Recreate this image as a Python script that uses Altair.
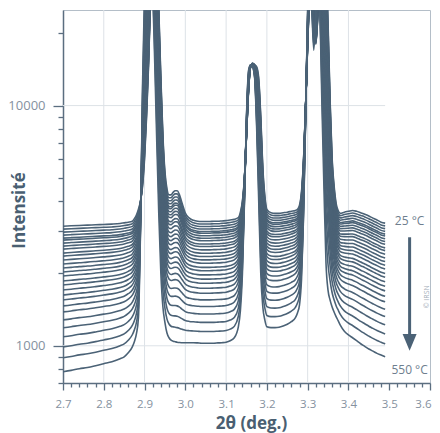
import altair as alt
import pandas as pd
import numpy as np

# 2-theta grid (deg.)
two_theta = [2.70, 2.72, 2.74, 2.76, 2.78, 2.80, 2.82, 2.84, 2.85, 2.86,
             2.87, 2.875, 2.88, 2.885, 2.89, 2.895, 2.90, 2.905, 2.91, 2.915,
             2.92, 2.925, 2.93, 2.935, 2.94, 2.945, 2.95, 2.955, 2.96, 2.965,
             2.97, 2.975, 2.98, 2.985, 2.99, 2.995, 3.00, 3.01, 3.02, 3.03,
             3.04, 3.05, 3.06, 3.07, 3.08, 3.09, 3.10, 3.11, 3.12, 3.13,
             3.135, 3.14, 3.145, 3.15, 3.155, 3.16, 3.165, 3.17, 3.175, 3.18,
             3.185, 3.19, 3.195, 3.20, 3.21, 3.22, 3.23, 3.24, 3.25, 3.26,
             3.27, 3.275, 3.28, 3.285, 3.29, 3.295, 3.30, 3.305, 3.31, 3.315,
             3.32, 3.325, 3.33, 3.335, 3.34, 3.345, 3.35, 3.355, 3.36, 3.365,
             3.37, 3.375, 3.38, 3.39, 3.40, 3.41, 3.42, 3.43, 3.44, 3.45,
             3.46, 3.47, 3.48, 3.49]

# pattern at 25 °C (top curve)
intensity_25C = [3147, 3160, 3170, 3180, 3190, 3200, 3210, 3230, 3250, 3270,
                 3300, 3380, 3500, 3700, 4000, 4600, 6000, 9000, 15000, 30000,
                 60000, 60000, 45000, 25000, 13000, 7500, 5300, 4500, 4250, 4250,
                 4350, 4420, 4420, 4280, 4030, 3780, 3570, 3400, 3330, 3300,
                 3290, 3290, 3290, 3300, 3300, 3310, 3320, 3340, 3360, 3420,
                 3600, 4000, 5000, 7500, 11500, 14500, 15000, 14800, 14500, 13000,
                 9000, 5500, 4200, 3700, 3580, 3560, 3560, 3580, 3600, 3630,
                 3660, 3700, 3850, 4400, 6000, 10000, 18000, 30000, 40000, 26000,
                 18000, 24000, 40000, 50000, 50000, 40000, 22000, 10500, 6000, 4600,
                 3900, 3650, 3560, 3600, 3630, 3660, 3630, 3580, 3530, 3470,
                 3400, 3340, 3270, 3240]

# pattern at 550 °C (bottom curve)
intensity_550C = [780, 790, 803, 812, 826, 842, 858, 883, 900, 935,
                  990, 1040, 1120, 1310, 3000, 12000, 30000, 50000, 60000, 50000,
                  30000, 15000, 7000, 3500, 2000, 1450, 1250, 1130, 1080, 1055,
                  1045, 1040, 1035, 1032, 1030, 1030, 1030, 1030, 1030, 1028,
                  1025, 1025, 1025, 1025, 1028, 1030, 1035, 1050, 1080, 1200,
                  1400, 2000, 4000, 9000, 14000, 14800, 14500, 13000, 8000, 4000,
                  2000, 1450, 1280, 1200, 1190, 1190, 1195, 1210, 1230, 1260,
                  1310, 1370, 1480, 1900, 3500, 9000, 25000, 40000, 26000, 17000,
                  25000, 40000, 25000, 10000, 4500, 2200, 1700, 1550, 1450, 1380,
                  1320, 1270, 1220, 1150, 1110, 1080, 1050, 1020, 995, 970,
                  950, 930, 915, 900]

# intensity of every pattern at 2θ = 2.7, from 25 °C (top) to 550 °C (bottom)
level_at_start = [3147, 3059, 2972, 2888, 2806, 2754, 2676, 2600, 2526, 2432,
                  2363, 2275, 2189, 2107, 2028, 1952, 1861, 1791, 1707, 1627,
                  1552, 1466, 1384, 1282, 1188, 1090, 990, 892, 780]

x_ticks = [round(2.70 + 0.02 * k, 2) for k in range(46)]
y_ticks = [700, 800, 900, 1000, 2000, 3000, 4000, 5000, 6000, 7000, 8000, 9000,
           10000, 20000]
grid_x = [2.8, 2.9, 3.0, 3.1, 3.2, 3.3, 3.4]
grid_y = [1000, 10000]

assert len(two_theta) == len(intensity_25C) == len(intensity_550C)

LINE = "#4b6276"
AXIS = "#5b6e80"
LABEL = "#8591a0"
TITLE = "#4a5f72"
FONT = "Open Sans"

lt = np.log(np.array(intensity_25C, float))
lb = np.log(np.array(intensity_550C, float))
rows = []
for i, lev in enumerate(level_at_start):
    t = (np.log(lev) - lt[0]) / (lb[0] - lt[0])
    vals = np.exp((1 - t) * lt + t * lb)
    for x, v in zip(two_theta, vals):
        rows.append({"curve": i, "tt": x, "I": float(v)})
df = pd.DataFrame(rows)

W, H = 367, 373
xscale = alt.Scale(domain=[2.7, 3.6], nice=False, zero=False)
yscale = alt.Scale(type="log", domain=[700, 25000], nice=False)

gx = alt.Chart(pd.DataFrame({"gx": grid_x})).mark_rule(
    color="#dde2e7", strokeWidth=1).encode(
    x=alt.X("gx:Q", scale=xscale, axis=None))
gy = alt.Chart(pd.DataFrame({"gy": grid_y, "x0": [2.7, 2.7], "x1": [3.49, 3.49]})).mark_rule(
    color="#dde2e7", strokeWidth=1).encode(
    y=alt.Y("gy:Q", scale=yscale, axis=None),
    x=alt.X("x0:Q", scale=xscale, axis=None), x2="x1:Q")

major_x = "abs(datum.value*10 - round(datum.value*10)) < 0.001"
major_y = "datum.value == 1000 || datum.value == 10000"

lines = alt.Chart(df).mark_line(clip=True, color=LINE, strokeWidth=1.6,
                                interpolate="monotone").encode(
    x=alt.X("tt:Q", scale=xscale,
            axis=alt.Axis(values=x_ticks, title="2θ (deg.)",
                          labelExpr=major_x + " ? format(datum.value, '.1f') : ''",
                          tickSize={"condition": {"test": major_x, "value": 7}, "value": 4},
                          labelAlign={"condition": {"test": "datum.value > 3.59", "value": "right"}, "value": "center"},
                          labelOffset={"condition": {"test": "datum.value > 3.59", "value": 1}, "value": 0},
                          labelPadding=8, labelFontSize=11.5, labelColor=LABEL, labelFont=FONT,
                          titleFont=FONT, titleFontSize=17, titleFontWeight="bold", titleColor=TITLE,
                          titleX=188, titleY=45, titleBaseline="alphabetic",
                          grid=False, domainColor=AXIS, tickColor=AXIS, domainWidth=1.5,
                          tickWidth=1.3, labelFlush=False, labelOverlap=False)),
    y=alt.Y("I:Q", scale=yscale,
            axis=alt.Axis(values=y_ticks, title="Intensité", format="d",
                          labelExpr=major_y + " ? datum.label : ''",
                          tickSize={"condition": {"test": major_y, "value": 10}, "value": 5},
                          labelPadding=8, labelFontSize=13, labelColor=LABEL, labelFont=FONT,
                          titleFont=FONT, titleFontSize=17, titleFontWeight="bold", titleColor=TITLE,
                          titleX=-44, titleY=200, titleAngle=-90, titleBaseline="middle",
                          grid=False, domainColor=AXIS, tickColor=AXIS, domainWidth=1.5,
                          tickWidth=1.3, labelOverlap=False)),
    detail="curve:N")

ann = pd.DataFrame({"x": [3.55, 3.55], "y": [3300, 790], "txt": ["25 °C", "550 °C"]})
labels = alt.Chart(ann).mark_text(font=FONT, fontSize=12, color="#6e7e8e",
                                  align="center", baseline="middle").encode(
    x=alt.X("x:Q", scale=xscale, axis=None),
    y=alt.Y("y:Q", scale=yscale, axis=None),
    text="txt:N")

credit = alt.Chart(pd.DataFrame({"x": [3.593], "y": [1600], "txt": ["© IRSN"]})).mark_text(
    font=FONT, fontSize=7, color="#a3adb8", angle=270, align="center", baseline="middle").encode(
    x=alt.X("x:Q", scale=xscale, axis=None),
    y=alt.Y("y:Q", scale=yscale, axis=None),
    text="txt:N")

arrow_df = pd.DataFrame({"x": [3.55], "y0": [2830], "y1": [1100], "yh": [1033]})
shaft = alt.Chart(arrow_df).mark_rule(color=LINE, strokeWidth=3).encode(
    x=alt.X("x:Q", scale=xscale, axis=None),
    y=alt.Y("y0:Q", scale=yscale, axis=None), y2="y1:Q")
head = alt.Chart(arrow_df).mark_point(shape="M -1 -1.2 L 1 -1.2 L 0 1.2 Z",
                                      size=196, filled=True, color=LINE, opacity=1).encode(
    x=alt.X("x:Q", scale=xscale, axis=None),
    y=alt.Y("yh:Q", scale=yscale, axis=None))

chart = alt.layer(gx, gy, lines, labels, credit, shaft, head).resolve_axis(
    x="independent", y="independent").properties(
    width=W, height=H,
    autosize=alt.AutoSizeParams(type="none"),
    padding={"left": 55, "top": 2, "right": 2, "bottom": 50},
).configure_view(stroke="#b4bec8", strokeWidth=1)

chart.save("out.html", embed_options={"renderer": "svg", "actions": False})
